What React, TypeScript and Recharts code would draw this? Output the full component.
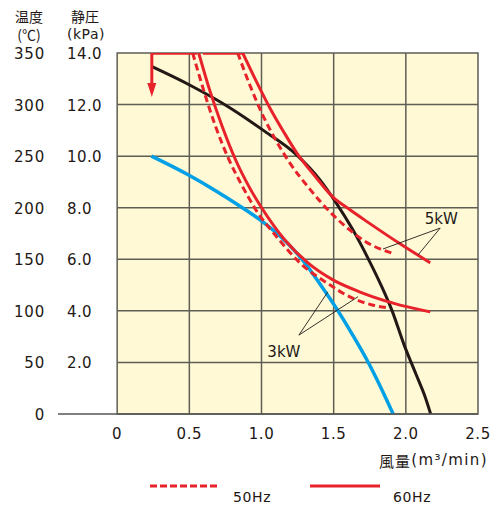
import React from 'react';
import { LineChart, Line, XAxis, YAxis, ReferenceArea, ReferenceLine, ReferenceDot } from 'recharts';

// ---------- data ----------
const xTicks = [0, 0.5, 1.0, 1.5, 2.0, 2.5];
const xTickLabels = ['0', '0.5', '1.0', '1.5', '2.0', '2.5'];
const tempTicks = [0, 50, 100, 150, 200, 250, 300, 350];
const tempTickLabels = ['0', '50', '100', '150', '200', '250', '300', '350'];
const kpaTickLabels = ['', '2.0', '4.0', '6.0', '8.0', '10.0', '12.0', '14.0'];

// temperature curves (℃)
const black5kW = [
  { x: 0.238, y: 337 }, { x: 0.502, y: 319 }, { x: 0.78, y: 297 }, { x: 1.023, y: 274 },
  { x: 1.245, y: 251 }, { x: 1.405, y: 227 }, { x: 1.516, y: 205 }, { x: 1.627, y: 180 },
  { x: 1.745, y: 149 }, { x: 1.828, y: 125 }, { x: 1.905, y: 100 }, { x: 1.988, y: 67 },
  { x: 2.072, y: 38 }, { x: 2.134, y: 16.5 }, { x: 2.172, y: 0 },
];
const blue3kW = [
  { x: 0.238, y: 250 }, { x: 0.495, y: 231.7 }, { x: 0.676, y: 217 }, { x: 0.849, y: 201.7 },
  { x: 1.002, y: 187 }, { x: 1.148, y: 170 }, { x: 1.287, y: 149 }, { x: 1.405, y: 126 },
  { x: 1.53, y: 100 }, { x: 1.634, y: 76 }, { x: 1.738, y: 50.4 }, { x: 1.829, y: 25 }, { x: 1.912, y: 0 },
];

// static pressure curves (kPa)
const p3kW60 = [
  { x: 0.565, y: 14.0 }, { x: 0.641, y: 12.56 }, { x: 0.724, y: 11.21 }, { x: 0.821, y: 9.85 },
  { x: 0.919, y: 8.76 }, { x: 1.002, y: 7.99 }, { x: 1.162, y: 6.75 }, { x: 1.322, y: 5.86 },
  { x: 1.495, y: 5.2 }, { x: 1.683, y: 4.73 }, { x: 1.912, y: 4.3 }, { x: 2.169, y: 3.96 },
];
const p3kW50 = [
  { x: 0.523, y: 14.0 }, { x: 0.599, y: 12.56 }, { x: 0.676, y: 11.24 }, { x: 0.766, y: 9.97 },
  { x: 0.863, y: 8.88 }, { x: 0.953, y: 7.99 }, { x: 1.113, y: 6.82 }, { x: 1.266, y: 5.86 },
  { x: 1.454, y: 5.08 }, { x: 1.613, y: 4.54 }, { x: 1.766, y: 4.23 }, { x: 1.89, y: 4.11 },
];
const p5kW60 = [
  { x: 0.87, y: 14.0 }, { x: 0.96, y: 12.95 }, { x: 1.058, y: 11.87 }, { x: 1.155, y: 10.93 },
  { x: 1.245, y: 10.12 }, { x: 1.37, y: 9.23 }, { x: 1.495, y: 8.41 }, { x: 1.613, y: 7.92 },
  { x: 1.731, y: 7.46 }, { x: 1.96, y: 6.6 }, { x: 2.169, y: 5.86 },
];
const p5kW50 = [
  { x: 0.835, y: 14.0 }, { x: 0.919, y: 12.76 }, { x: 1.002, y: 11.67 }, { x: 1.099, y: 10.62 },
  { x: 1.197, y: 9.73 }, { x: 1.335, y: 8.72 }, { x: 1.495, y: 7.72 }, { x: 1.613, y: 7.13 },
  { x: 1.724, y: 6.67 }, { x: 1.822, y: 6.4 }, { x: 1.905, y: 6.24 },
];

// top bracket & arrow (kPa)
const topLineA = [{ x: 0.24, y: 14.0 }, { x: 0.555, y: 14.0 }];
const topLineB = [{ x: 0.595, y: 14.0 }, { x: 0.87, y: 14.0 }];
const arrowShaft = [{ x: 0.24, y: 14.0 }, { x: 0.24, y: 12.7 }];
const arrowHead = { x: 0.24, y: 12.6 };

// annotation leaders (kPa)
const leader5kW = [{ x: 1.842, y: 6.4 }, { x: 2.238, y: 7.21 }, { x: 2.085, y: 6.17 }];
const leader3kW = [{ x: 1.46, y: 4.74 }, { x: 1.259, y: 3.06 }, { x: 1.669, y: 4.55 }];
const label5kW = { x: 2.245, y: 7.56, text: '5kW' };
const label3kW = { x: 1.155, y: 2.4, text: '3kW' };

const gridY = [50, 100, 150, 200, 250, 300];
const gridX = [0.5, 1.0, 1.5, 2.0];

// ---------- styles ----------
const RED = '#E8222B';
const BLACK = '#231815';
const BLUE = '#00A0E6';
const YELLOW = '#FFF9D6';
const GRID = '#5e5e55';
const TEXT = '#231815';
const FONT = '"DejaVu Sans", "Noto Sans CJK JP", sans-serif';
const JP = '"Noto Sans CJK JP", "DejaVu Sans", sans-serif';

const TEMP_LABEL_RIGHT = 45;
const KPA_LABEL_LEFT = 67;

const YTick = (props: any) => {
  const { y, payload } = props;
  const i = tempTicks.indexOf(payload.value);
  return (
    <g>
      <text x={TEMP_LABEL_RIGHT} y={y + 1} textAnchor="end" dominantBaseline="central" fontFamily={FONT} fontSize={15} fill={TEXT} letterSpacing={0.8}>
        {tempTickLabels[i]}
      </text>
      <text x={KPA_LABEL_LEFT} y={y + 1} textAnchor="start" dominantBaseline="central" fontFamily={FONT} fontSize={15} fill={TEXT} letterSpacing={0.4}>
        {kpaTickLabels[i]}
      </text>
    </g>
  );
};

const XTick = (props: any) => {
  const { x, y, payload } = props;
  const i = xTicks.indexOf(payload.value);
  return (
    <text x={x} y={y + 20} textAnchor="middle" dominantBaseline="central" fontFamily={FONT} fontSize={15} fill={TEXT} letterSpacing={0.6}>
      {xTickLabels[i]}
    </text>
  );
};

const ArrowHead = (props: any) => {
  const { cx, cy } = props;
  return <polygon points={`${cx - 4.5},${cy - 6} ${cx + 4.5},${cy - 6} ${cx},${cy + 8}`} fill={RED} />;
};

const makeLabel = (text: string) => (props: any) => {
  const { cx, cy } = props;
  return (
    <text x={cx} y={cy} textAnchor="middle" dominantBaseline="central" fontFamily={FONT} fontSize={15} fill={TEXT}>
      {text}
    </text>
  );
};

export default function App() {
  return (
    <div style={{ position: 'absolute', left: 0, top: 0, width: 493, height: 505, background: '#fff' }}>
      <LineChart width={493} height={505} margin={{ top: 53, right: 15, bottom: 61, left: 0 }}>
        <XAxis
          type="number"
          dataKey="x"
          domain={[-0.41, 2.5]}
          ticks={xTicks}
          allowDataOverflow
          tickSize={0}
          tickMargin={0}
          tickLine={false}
          axisLine={{ stroke: '#555', strokeWidth: 1.5 }}
          tick={<XTick />}
          height={30}
        />
        <YAxis
          yAxisId="t"
          type="number"
          domain={[0, 350]}
          ticks={tempTicks}
          allowDataOverflow
          width={58}
          tickSize={0}
          tickMargin={0}
          tickLine={false}
          axisLine={{ stroke: '#444', strokeWidth: 1.2 }}
          tick={<YTick />}
        />
        <YAxis yAxisId="p" type="number" domain={[0, 14]} allowDataOverflow hide />

        <ReferenceArea yAxisId="t" x1={0} x2={2.5} y1={0} y2={350} fill={YELLOW} fillOpacity={1} stroke={GRID} strokeWidth={1.5} ifOverflow="visible" />
        {gridY.map((v) => (
          <ReferenceLine key={'gy' + v} yAxisId="t" segment={[{ x: 0, y: v }, { x: 2.5, y: v }]} stroke={GRID} strokeWidth={1.5} />
        ))}
        {gridX.map((v) => (
          <ReferenceLine key={'gx' + v} yAxisId="t" x={v} stroke={GRID} strokeWidth={1.5} />
        ))}

        <Line yAxisId="t" data={blue3kW} dataKey="y" type="monotone" stroke={BLUE} strokeWidth={3.5} dot={false} isAnimationActive={false} />
        <Line yAxisId="t" data={black5kW} dataKey="y" type="monotone" stroke={BLACK} strokeWidth={3} dot={false} isAnimationActive={false} />

        <Line yAxisId="p" data={p3kW50} dataKey="y" type="monotone" stroke={RED} strokeWidth={3} strokeDasharray="7 4" dot={false} isAnimationActive={false} />
        <Line yAxisId="p" data={p3kW60} dataKey="y" type="monotone" stroke={RED} strokeWidth={3} dot={false} isAnimationActive={false} />
        <Line yAxisId="p" data={p5kW50} dataKey="y" type="monotone" stroke={RED} strokeWidth={3} strokeDasharray="7 4" dot={false} isAnimationActive={false} />
        <Line yAxisId="p" data={p5kW60} dataKey="y" type="monotone" stroke={RED} strokeWidth={3} dot={false} isAnimationActive={false} />

        <Line yAxisId="p" data={topLineA} dataKey="y" type="linear" stroke={RED} strokeWidth={3.5} dot={false} isAnimationActive={false} />
        <Line yAxisId="p" data={topLineB} dataKey="y" type="linear" stroke={RED} strokeWidth={3.5} dot={false} isAnimationActive={false} />
        <Line yAxisId="p" data={arrowShaft} dataKey="y" type="linear" stroke={RED} strokeWidth={3} dot={false} isAnimationActive={false} />
        <ReferenceDot yAxisId="p" x={arrowHead.x} y={arrowHead.y} r={0} shape={<ArrowHead />} />

        <Line yAxisId="p" data={leader5kW} dataKey="y" type="linear" stroke={BLACK} strokeWidth={0.9} dot={false} isAnimationActive={false} />
        <Line yAxisId="p" data={leader3kW} dataKey="y" type="linear" stroke={BLACK} strokeWidth={0.9} dot={false} isAnimationActive={false} />
        <ReferenceDot yAxisId="p" x={label5kW.x} y={label5kW.y} r={0} shape={makeLabel(label5kW.text)} />
        <ReferenceDot yAxisId="p" x={label3kW.x} y={label3kW.y} r={0} shape={makeLabel(label3kW.text)} />
      </LineChart>

      <svg width={493} height={505} style={{ position: 'absolute', left: 0, top: 0, pointerEvents: 'none' }}>
        <text x={29} y={16} textAnchor="middle" dominantBaseline="central" fontFamily={JP} fontSize={14} fill={TEXT}>温度</text>
        <text x={29} y={34} textAnchor="middle" dominantBaseline="central" fontFamily={JP} fontSize={14} fill={TEXT}>(℃)</text>
        <text x={85} y={16} textAnchor="middle" dominantBaseline="central" fontFamily={JP} fontSize={14} fill={TEXT}>静圧</text>
        <text x={86} y={34} textAnchor="middle" dominantBaseline="central" fontFamily={FONT} fontSize={14} fill={TEXT} letterSpacing={0.5}>(kPa)</text>
        <text x={488} y={460} textAnchor="end" dominantBaseline="central" fontSize={15} fill={TEXT}>
          <tspan fontFamily={JP} letterSpacing={1}>風量</tspan>
          <tspan fontFamily={FONT} letterSpacing={1.4}>(m³/min)</tspan>
        </text>

        <line x1={150} y1={486} x2={220} y2={486} stroke={RED} strokeWidth={3} strokeDasharray="7 3" />
        <text x={233} y={497} dominantBaseline="central" fontFamily={FONT} fontSize={14} fill={TEXT} letterSpacing={0.6}>50Hz</text>
        <line x1={310} y1={486} x2={380} y2={486} stroke={RED} strokeWidth={3} />
        <text x={393} y={497} dominantBaseline="central" fontFamily={FONT} fontSize={14} fill={TEXT} letterSpacing={0.6}>60Hz</text>
      </svg>
    </div>
  );
}
